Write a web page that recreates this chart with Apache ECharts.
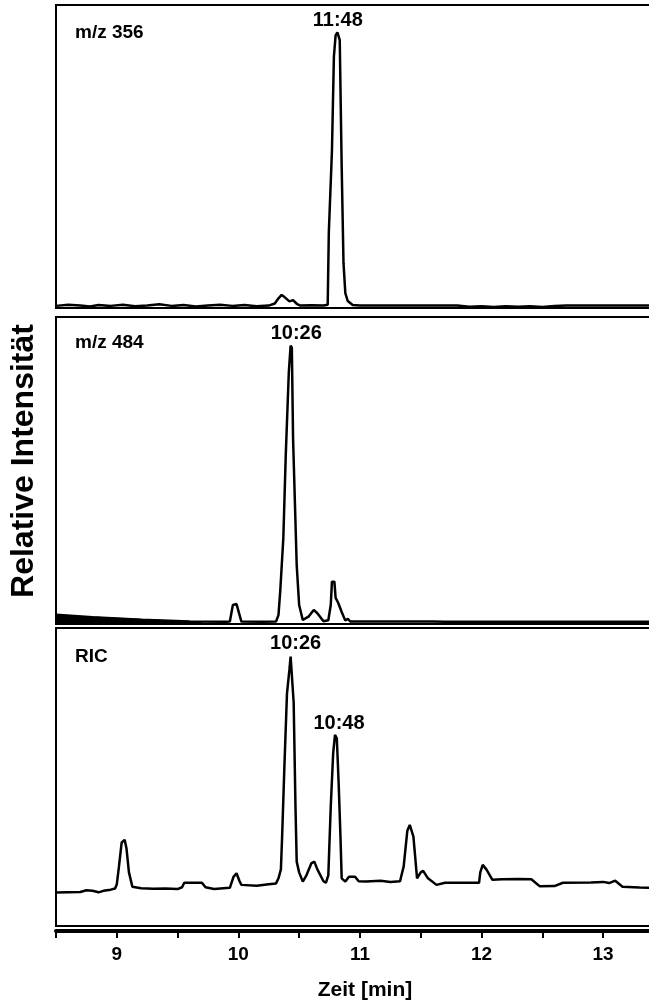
<!DOCTYPE html>
<html>
<head>
<meta charset="utf-8">
<script src="https://cdn.jsdelivr.net/npm/echarts@6/dist/echarts.min.js"></script>
<style>
  html, body { margin: 0; padding: 0; background: #fff; }
  #chart { width: 649px; height: 1005px; }
</style>
</head>
<body>
<div id="chart"></div>
<script>
// Retention time axis (minutes)
const axisMin = 8.5;
const axisMax = 13.6;
const axisStep = 0.5;

// m/z 356 trace
const mz356Time = [8.5, 8.6, 8.7, 8.78, 8.85, 8.95, 9.05, 9.15, 9.25, 9.35, 9.45, 9.55, 9.65, 9.75, 9.85, 9.95,
  10.05, 10.15, 10.25, 10.3, 10.33, 10.356, 10.38, 10.42, 10.45, 10.48, 10.51, 10.6, 10.7, 10.735, 10.744,
  10.77, 10.786, 10.8, 10.815, 10.834, 10.85, 10.865, 10.88, 10.9, 10.94, 11.0, 11.2, 11.4, 11.6, 11.8,
  11.9, 12.0, 12.1, 12.2, 12.3, 12.4, 12.5, 12.6, 12.7, 12.8, 13.0, 13.2, 13.6];
const mz356Int = [0.7, 1.1, 0.8, 0.5, 1.0, 0.7, 1.1, 0.6, 0.8, 1.2, 0.7, 1.0, 0.5, 0.8, 1.1, 0.7,
  1.0, 0.6, 0.8, 1.5, 3.2, 4.3, 3.6, 2.2, 2.6, 1.4, 0.8, 0.9, 0.8, 1.1, 24.7,
  52, 83, 90, 91, 88.4, 46.6, 14.8, 4.9, 2.3, 1.0, 0.8, 0.8, 0.8, 0.8, 0.8,
  0.4, 0.6, 0.3, 0.6, 0.4, 0.6, 0.3, 0.7, 0.8, 0.8, 0.8, 0.8, 0.8];

// m/z 484 trace
const mz484Time = [8.5, 8.8, 9.2, 9.6, 9.9, 9.93, 9.955, 9.985, 10.0, 10.025, 10.2, 10.31, 10.33, 10.345,
  10.37, 10.39, 10.415, 10.43, 10.44, 10.45, 10.48, 10.5, 10.53, 10.58, 10.62, 10.65, 10.7, 10.74, 10.76,
  10.77, 10.79, 10.8, 10.82, 10.85, 10.88, 10.9, 10.92, 11.0, 11.3, 11.6, 11.7, 12.0, 13.6];
const mz484Int = [3.0, 2.2, 1.4, 0.8, 0.7, 0.8, 6.2, 6.5, 6.0, 0.8, 0.7, 0.8, 2.9, 11,
  28, 55, 82, 90.7, 90, 60.5, 19.2, 6.2, 1.3, 2.5, 4.6, 3.5, 0.9, 1.2, 6.2,
  13.8, 13.8, 8.5, 7.0, 3.9, 1.1, 1.7, 0.8, 0.8, 0.8, 0.8, 0.7, 0.7, 0.7];
// early baseline drift of the m/z 484 trace
const mz484DriftTime = [8.5, 9.7];
const mz484DriftInt = [3.0, 0.7];

// Reconstructed ion chromatogram (RIC)
const ricTime = [8.5, 8.6, 8.7, 8.75, 8.8, 8.85, 8.89, 8.95, 8.986, 9.0, 9.018, 9.04, 9.065, 9.08, 9.1, 9.128,
  9.2, 9.3, 9.4, 9.5, 9.537, 9.555, 9.7, 9.73, 9.8, 9.93, 9.96, 9.985, 10.01, 10.025, 10.15, 10.25, 10.31,
  10.33, 10.35, 10.36, 10.38, 10.4, 10.42, 10.43, 10.445, 10.455, 10.47, 10.48, 10.5, 10.53, 10.56, 10.6,
  10.625, 10.65, 10.7, 10.72, 10.74, 10.76, 10.78, 10.795, 10.81, 10.825, 10.84, 10.85, 10.88, 10.91,
  10.96, 10.99, 11.05, 11.17, 11.25, 11.33, 11.36, 11.39, 11.41, 11.44, 11.47, 11.5, 11.52, 11.56, 11.63,
  11.7, 11.98, 11.99, 12.01, 12.04, 12.09, 12.17, 12.3, 12.41, 12.48, 12.6, 12.67, 12.9, 13.0, 13.05,
  13.1, 13.16, 13.3, 13.6];
const ricInt = [11.2, 11.3, 11.4, 12.0, 11.8, 11.3, 11.8, 12.2, 12.6, 14, 20, 28, 28.9, 26, 18, 13.2,
  12.7, 12.5, 12.6, 12.4, 13, 14.5, 14.5, 13.0, 12.4, 12.8, 16.5, 17.7, 15, 13.8, 13.5, 14, 14.3,
  16, 19, 30, 55, 78, 86, 90.4, 90, 75, 40, 21.6, 18, 14.9, 17, 21,
  21.6, 19, 15, 14.5, 17, 40, 58, 64.1, 63, 48, 30, 16, 14.9, 16.5,
  16.5, 15, 14.9, 15.2, 14.8, 15, 20, 32, 33.9, 30, 16, 18, 18.5, 16, 13.8,
  14.5, 14.5, 18, 20.5, 19, 15.5, 15.7, 15.8, 15.7, 13.3, 13.4, 14.5, 14.6, 14.8, 14.4,
  15.2, 13.2, 12.9, 12.8];

// Panel captions and peak annotations
const panelNames = ['m/z 356', 'm/z 484', 'RIC'];
const peakLabels = ['11:48', '10:26', '10:26', '10:48'];
const peakTimes = [10.81, 10.435, 10.43, 10.795];
const peakPanels = [0, 1, 2, 2];
const yAxisTitle = 'Relative Intensität';
const xAxisTitle = 'Zeit [min]';

const FONT = '"Liberation Sans", Arial, Helvetica, sans-serif';
const pairs = (ts, vs) => ts.map((t, i) => [t, vs[i]]);

// three stacked panels; the plot area runs past the right edge of the page
const grids = [
  { left: 56, top: 5, width: 620, height: 303 },
  { left: 56, top: 317, width: 620, height: 307 },
  { left: 56, top: 628, width: 620, height: 298 }
].map(g => Object.assign(g, {
  show: true, borderColor: '#000', borderWidth: 2, backgroundColor: 'transparent',
  containLabel: false, outerBoundsMode: 'none'
}));

const xAxes = grids.map((g, i) => ({
  type: 'value', gridIndex: i, min: axisMin, max: axisMax, interval: axisStep,
  show: i === 2,
  offset: i === 2 ? 5 : 0,
  axisLine: { show: true, onZero: false, lineStyle: { color: '#000', width: 4 } },
  axisTick: { show: true, inside: false, length: 7, lineStyle: { color: '#000', width: 2 } },
  axisLabel: {
    show: true, margin: 14, color: '#000', fontFamily: FONT, fontWeight: 'bold', fontSize: 19,
    formatter: v => (Math.abs(v - Math.round(v)) < 1e-6 ? String(Math.round(v)) : '')
  },
  splitLine: { show: false }
}));

const yAxes = grids.map((g, i) => ({
  type: 'value', gridIndex: i, min: 0, max: 100, show: false, splitLine: { show: false }
}));

const lineStyle = { color: '#000', width: 2.5 };
const traceSeries = (data, idx) => ({
  type: 'line', xAxisIndex: idx, yAxisIndex: idx, data, showSymbol: false, symbol: 'none',
  lineStyle, smooth: false, animation: false, z: 3
});

const series = [
  traceSeries(pairs(mz356Time, mz356Int), 0),
  traceSeries(pairs(mz484Time, mz484Int), 1),
  {
    type: 'line', xAxisIndex: 1, yAxisIndex: 1, data: pairs(mz484DriftTime, mz484DriftInt),
    showSymbol: false, symbol: 'none', lineStyle: { width: 0 },
    areaStyle: { color: '#000', opacity: 1 }, animation: false, z: 2
  },
  traceSeries(pairs(ricTime, ricInt), 2)
];

const chart = echarts.init(document.getElementById('chart'), null, { renderer: 'canvas' });
chart.setOption({
  backgroundColor: '#fff',
  animation: false,
  grid: grids,
  xAxis: xAxes,
  yAxis: yAxes,
  series
});

// Peak annotations placed above each peak apex
const peakValueAt = (panel, t) => {
  const src = panel === 0 ? [mz356Time, mz356Int] : panel === 1 ? [mz484Time, mz484Int] : [ricTime, ricInt];
  let best = 0;
  src[0].forEach((tt, i) => { if (Math.abs(tt - t) < 0.03) best = Math.max(best, src[1][i]); });
  return best;
};
const labelShift = [[1, -12], [5, -12.5], [5, -13.5], [4, -11]];
const graphics = peakLabels.map((txt, k) => {
  const p = peakPanels[k];
  const pt = chart.convertToPixel({ gridIndex: p }, [peakTimes[k], peakValueAt(p, peakTimes[k])]);
  return {
    type: 'text', x: pt[0] + labelShift[k][0], y: pt[1] + labelShift[k][1], z: 10,
    style: { text: txt, fill: '#000', font: 'bold 20px ' + FONT, textAlign: 'center', textVerticalAlign: 'middle' }
  };
});

const captionY = [33, 343, 657];
panelNames.forEach((name, i) => {
  graphics.push({
    type: 'text', x: 75, y: captionY[i], z: 10,
    style: { text: name, fill: '#000', font: 'bold 19px ' + FONT, textAlign: 'left', textVerticalAlign: 'middle' }
  });
});

graphics.push({
  type: 'text', x: 365, y: 990, z: 10,
  style: { text: xAxisTitle, fill: '#000', font: 'bold 21px ' + FONT, textAlign: 'center', textVerticalAlign: 'middle' }
});
graphics.push({
  type: 'text', x: 24, y: 461, rotation: Math.PI / 2, z: 10,
  style: { text: yAxisTitle, fill: '#000', font: 'bold 32px ' + FONT, textAlign: 'center', textVerticalAlign: 'middle' }
});

chart.setOption({ graphic: graphics });
</script>
</body>
</html>
